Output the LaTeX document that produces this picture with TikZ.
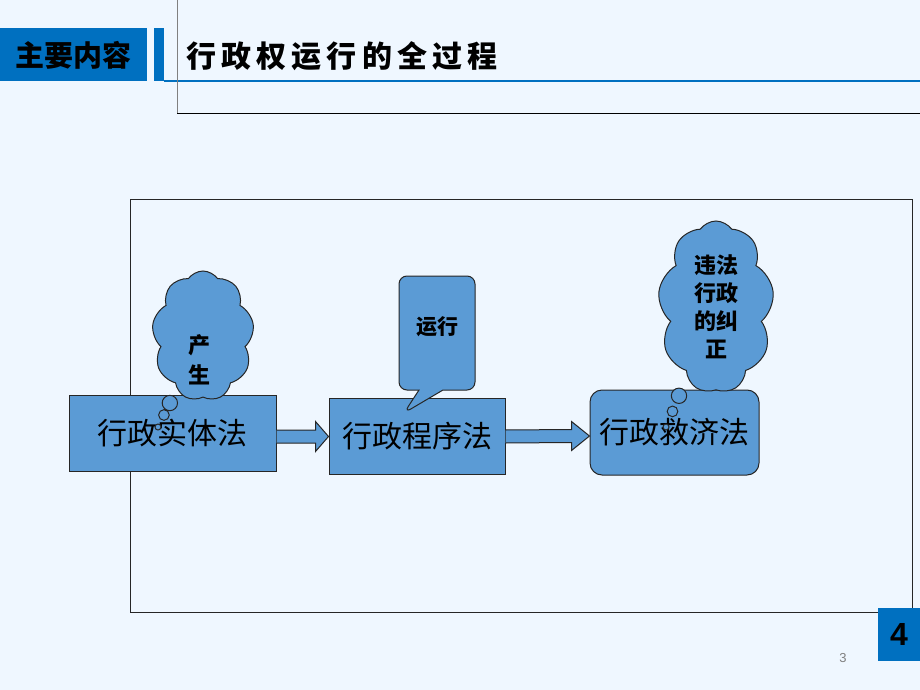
\documentclass[tikz,border=0pt]{standalone}
\usepackage{fontspec}
\setmainfont{Liberation Sans}
\newfontfamily\cjk{Noto Sans CJK SC}
\usetikzlibrary{calc, shapes.symbols, shapes.callouts}
\definecolor{pagebg}{RGB}{239,247,255}
\definecolor{headblue}{RGB}{0,112,192}
\definecolor{boxblue}{RGB}{91,155,213}
\begin{document}
\begin{tikzpicture}[x=1pt, y=-1pt,
    lawbox/.style={draw=black!85, line width=1pt, fill=boxblue, minimum height=76pt,
      inner sep=0pt, font=\cjk\fontsize{30}{30}\selectfont},
    blockarrow/.style={draw=black!85, line width=1pt, fill=boxblue},
    thought/.style={cloud callout, draw=black!85, line width=1pt, fill=boxblue,
      cloud puffs=9, cloud puff arc=110, cloud ignores aspect, inner sep=0pt, align=center,
      callout pointer start size=20pt, callout pointer end size=6pt,
      callout pointer segments=3, font=\cjk\bfseries\fontsize{22}{28}\selectfont}]
  \useasboundingbox (0,0) rectangle (920,690);
  \fill[pagebg] (0,0) rectangle (920,690);
  % header
  \fill[headblue] (0,28) rectangle (147,81);
  \fill[headblue] (154,28) rectangle (164,81);
  \draw[headblue, line width=2pt] (164,81) -- (920,81);
  \draw[gray, line width=1pt] (177,0) -- (177,114);
  \draw[black, line width=1pt] (177,114) -- (920,114);
  \node (head) at (73,55) {\cjk\bfseries\fontsize{29}{29}\selectfont 主要内容};
  \node[anchor=west] (title) at (183,56)
    {\cjk\bfseries\fontsize{30}{30}\selectfont\addfontfeature{LetterSpace=17}行政权运行的全过程};
  % frame
  \draw[black!85, line width=1pt] (130,199) rectangle (912,612);
  % the three laws
  \node[lawbox, minimum width=207pt] (shiti) at (172.5,433) {行政实体法};
  \node[lawbox, minimum width=176pt] (chengxu) at (417,436.5) {行政程序法};
  \node[lawbox, minimum width=169pt, minimum height=85pt, rounded corners=12pt]
    (jiuji) at (674.5,432.5) {行政救济法};
  % block arrows
  \draw[blockarrow] ($(shiti.east)+(0,-3)$) -- ($(chengxu.west)+(-13,-6.5)$)
    -- ($(chengxu.west)+(-13,-15)$) -- (chengxu.west) -- ($(chengxu.west)+(-13,15)$)
    -- ($(chengxu.west)+(-13,6.5)$) -- ($(shiti.east)+(0,10)$);
  \draw[blockarrow] ($(chengxu.east)+(0,-6.5)$) -- ($(jiuji.west)+(-18,-3)$)
    -- ($(jiuji.west)+(-18,-11)$) -- ($(jiuji.west)+(0,3.5)$) -- ($(jiuji.west)+(-18,18)$)
    -- ($(jiuji.west)+(-18,10)$) -- ($(chengxu.east)+(0,6.5)$);
  % bubbles
  \node[thought, minimum width=102pt, minimum height=130pt,
    callout absolute pointer={(158,427)}] (chansheng) at (203,336) {};
  \node[align=center, font=\cjk\bfseries\fontsize{22}{30}\selectfont]
    (chanshengtext) at (199,360) {产\\生};
  \node[rectangle callout, draw=black!85, line width=1pt, fill=boxblue, rounded corners=8pt,
    minimum width=76pt, minimum height=114pt, inner sep=0pt,
    callout absolute pointer={(404,413)}, callout pointer width=24pt,
    font=\cjk\bfseries\fontsize{21}{21}\selectfont] (yunxing) at (437,333)
    {\raisebox{14pt}{运行}};
  \node[thought, minimum width=116pt, minimum height=172pt,
    callout absolute pointer={(666,427)}] (jiuzheng) at (716,307) {违法\\行政\\的纠\\正};
  % page marks
  \fill[headblue] (878,608) rectangle (920,661);
  \node (pagenum) at (899,634) {\bfseries\fontsize{32}{32}\selectfont 4};
  \node[text=gray] (slide) at (843,658) {\fontsize{13}{13}\selectfont 3};
\end{tikzpicture}
\end{document}
